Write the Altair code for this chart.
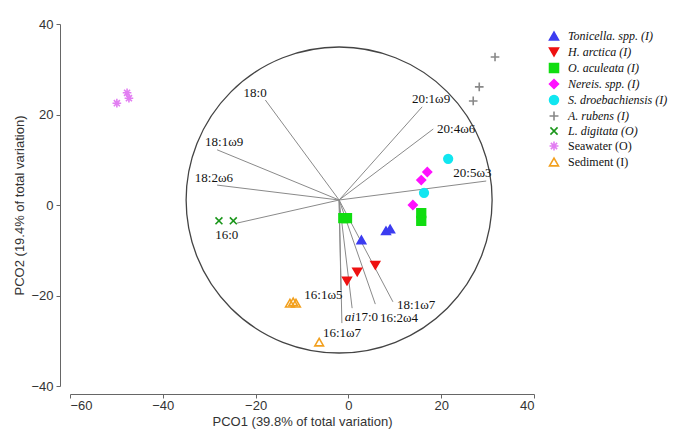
import altair as alt
import pandas as pd

# ---------------- data ----------------
groups = ["Tonicella. spp. (I)", "H. arctica (I)", "O. aculeata (I)", "Nereis. spp. (I)",
          "S. droebachiensis (I)", "A. rubens (I)", "L. digitata (O)", "Seawater (O)",
          "Sediment (I)"]

pt_group = (["Tonicella. spp. (I)"] * 3 + ["H. arctica (I)"] * 3 + ["O. aculeata (I)"] * 4 +
            ["Nereis. spp. (I)"] * 3 + ["S. droebachiensis (I)"] * 2 + ["A. rubens (I)"] * 3 +
            ["L. digitata (O)"] * 2 + ["Seawater (O)"] * 3 + ["Sediment (I)"] * 4)
pt_x = [2.8, 8.1, 9.0,
        -0.3, 1.9, 5.8,
        -1.1, -0.3, 15.7, 15.7,
        13.9, 15.7, 17.0,
        21.5, 16.3,
        31.6, 28.2, 26.9,
        -27.9, -24.8,
        -49.9, -47.7, -47.3,
        -12.6, -11.9, -11.3, -6.3]
pt_y = [-7.7, -5.7, -5.3,
        -16.8, -14.8, -13.3,
        -2.9, -2.9, -1.8, -3.5,
        0.0, 5.5, 7.3,
        10.2, 2.7,
        32.7, 26.1, 23.0,
        -3.5, -3.5,
        22.5, 24.8, 23.6,
        -21.7, -21.4, -21.7, -30.3]

# vector overlay (origin and end points, in axis units)
vec_origin = (-2.0, 1.1)
vec_names = ["18:0", "18:1ω9", "18:2ω6", "16:0", "20:1ω9", "20:4ω6", "20:5ω3",
             "16:1ω5", "16:1ω7", "ai17:0", "16:2ω4", "18:1ω7"]
vec_x = [-17.9, -28.3, -28.3, -24.0, 15.9, 18.3, 29.7, -1.6, -1.4, 0.8, 5.8, 9.6]
vec_y = [23.2, 12.2, 4.4, -4.0, 21.7, 16.8, 5.3, -18.8, -26.1, -22.8, -21.9, -21.4]
# label anchors (left edge of the upright part of each label)
lab_prefix = ["", "", "", "", "", "", "", "", "", "ai", "", ""]
lab_text = ["18:0", "18:1ω9", "18:2ω6", "16:0", "20:1ω9", "20:4ω6", "20:5ω3",
            "16:1ω5", "16:1ω7", "17:0", "16:2ω4", "18:1ω7"]
lab_x = [-22.6, -30.9, -33.1, -28.7, 13.7, 19.1, 22.6, -9.5, -5.5, 1.4, 6.8, 10.5]
lab_y = [24.8, 13.9, 6.0, -6.6, 23.4, 16.8, 7.1, -19.9, -28.3, -24.8, -25.0, -22.1]

x_ticks = [-60, -40, -20, 0, 20, 40]
y_ticks = [-40, -20, 0, 20, 40]

# ---------------- styles ----------------
colors = ["#3c3cf0", "#ee1111", "#11dd11", "#ff11ff", "#11e6f0", "#888888",
          "#1a961a", "#e27ef2", "#f2a01e"]
fills = ["#3c3cf0", "#ee1111", "#11dd11", "#ff11ff", "#11e6f0", "transparent",
         "transparent", "transparent", "transparent"]
PLUS = "M-1,0L1,0M0,-1L0,1"
XS = "M-0.8,-0.8L0.8,0.8M-0.8,0.8L0.8,-0.8"
AST = "M-1,0L1,0M0,-1L0,1M-0.7,-0.7L0.7,0.7M-0.7,0.7L0.7,-0.7"
shapes = ["triangle-up", "triangle-down", "square", "diamond", "circle", PLUS, XS, AST,
          "triangle-up"]

pts = pd.DataFrame({"group": pt_group, "x": pt_x, "y": pt_y})
vecs = pd.DataFrame({"name": vec_names, "x": [vec_origin[0]] * len(vec_names),
                     "y": [vec_origin[1]] * len(vec_names), "x2": vec_x, "y2": vec_y})
labs = pd.DataFrame({"pre": lab_prefix, "txt": lab_text, "x": lab_x, "y": lab_y})
center = pd.DataFrame({"x": [vec_origin[0]], "y": [vec_origin[1]]})

xscale = alt.Scale(domain=[-60, 40], nice=False, zero=False)
yscale = alt.Scale(domain=[-40, 40], nice=False, zero=False)
xaxis = alt.Axis(values=x_ticks, title="PCO1 (39.8% of total variation)", offset=8,
                 labelPadding=1, titlePadding=3)
yaxis = alt.Axis(values=y_ticks, title="PCO2 (19.4% of total variation)", offset=10,
                 labelPadding=3, titlePadding=4)

X = alt.X("x:Q", scale=xscale, axis=xaxis)
Y = alt.Y("y:Q", scale=yscale, axis=yaxis)

circle = alt.Chart(center).mark_point(
    shape="circle", size=306 * 306, filled=False, color="#444444", strokeWidth=1.3, opacity=1
).encode(x=X, y=Y)

rules = alt.Chart(vecs).mark_rule(color="#8a8a8a", strokeWidth=1).encode(
    x=X, y=Y, x2="x2:Q", y2="y2:Q")

text_main = alt.Chart(labs).mark_text(
    align="left", baseline="middle", font="Liberation Serif", fontSize=13, color="#111111"
).encode(x=X, y=Y, text="txt:N")

text_pre = alt.Chart(labs).mark_text(
    align="right", baseline="middle", font="Liberation Serif", fontSize=13,
    fontStyle="italic", color="#111111"
).encode(x=X, y=Y, text="pre:N")

legend = alt.Legend(
    orient="none", legendX=478, legendY=6, padding=0, title=None,
    labelFont="Liberation Serif", labelFontSize=12, labelColor="#111111",
    labelFontStyle=alt.ExprRef(
        "indexof(datum.label, 'Seawater') >= 0 || indexof(datum.label, 'Sediment') >= 0 ? 'normal' : 'italic'"),
    symbolSize=80, symbolStrokeWidth=1.6, rowPadding=0, labelOffset=8, labelLimit=200,
)

points = alt.Chart(pts).mark_point(size=75, strokeWidth=1.6, opacity=1).encode(
    x=X, y=Y,
    shape=alt.Shape("group:N", title=None, sort=groups,
                    scale=alt.Scale(domain=groups, range=shapes), legend=legend),
    stroke=alt.Stroke("group:N", title=None, sort=groups,
                      scale=alt.Scale(domain=groups, range=colors), legend=legend),
    fill=alt.Fill("group:N", title=None, sort=groups,
                  scale=alt.Scale(domain=groups, range=fills), legend=legend),
)

chart = alt.layer(circle, rules, text_pre, text_main, points).properties(
    width=464, height=362,
    padding={"left": 62, "top": 16, "right": 139, "bottom": 44},
    autosize=alt.AutoSizeParams(type="none"),
).configure_view(stroke=None).configure_axis(
    grid=False, domainColor="#666666", tickColor="#666666", tickSize=4,
    labelFont="Liberation Sans", labelFontSize=13, labelColor="#333333",
    titleFont="Liberation Sans", titleFontSize=13, titleColor="#333333",
    titleFontWeight="normal",
)

chart.save("out.html", embed_options={"renderer": "svg", "actions": False})
